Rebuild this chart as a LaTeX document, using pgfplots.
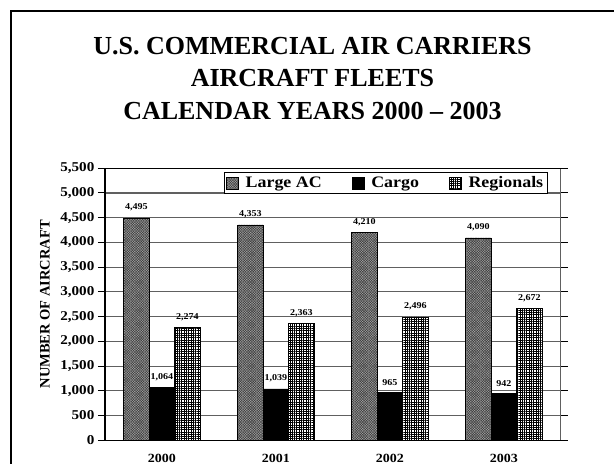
\documentclass[border=0pt]{standalone}
\usepackage{pgfplots}
\pgfplotsset{compat=1.18}
\usetikzlibrary{patterns.meta}
\usepackage{fontspec}
\setmainfont{Liberation Serif}
\newfontfamily\chartfont[FakeStretch=1.12]{Liberation Serif}

\begin{document}
\begin{tikzpicture}[x=1bp,y=1bp]
\useasboundingbox (0,0) rectangle (614,464);
% page frame, cut at right and bottom
\draw[line width=2.6bp] (11,0) -- (11,453) -- (614,453);
% title
\begin{scope}[every node/.style={anchor=base, font=\bfseries\fontsize{26bp}{30bp}\selectfont}]
\node at (312.5,409) {U.S. COMMERCIAL AIR CARRIERS};
\node at (312.5,377) {AIRCRAFT FLEETS};
\node at (312.5,344) {CALENDAR YEARS 2000 -- 2003};
\end{scope}

\begin{axis}[
    at={(92,48)}, anchor=south west,
    scale only axis, width=456bp, height=272bp,
    ybar=0pt, bar width=25.5bp,
    xmin=-0.5, xmax=3.5, ymin=0, ymax=5500,
    xtick={0,1,2,3}, xticklabels={2000,2001,2002,2003},
    ytick={0,500,...,5500},
    xtick style={draw=none},
    ytick style={black, line width=1bp},
    tick align=outside, major tick length=7bp,
    ymajorgrids, major grid style={draw=gray!75!black, line width=1.1bp},
    axis line style={draw=gray!75!black, line width=1.1bp},
    clip=false,
    /pgf/number format/.cd, 1000 sep={,}, assume math mode=true, /pgfplots/.cd,
    yticklabel style={font=\chartfont\bfseries\fontsize{13.5bp}{15bp}\selectfont},
    xticklabel style={font=\chartfont\bfseries\fontsize{12.5bp}{14bp}\selectfont, yshift=-3bp},
    ylabel={NUMBER OF AIRCRAFT},
    every axis y label/.style={at={(rel axis cs:0,0.5)}, xshift=-60bp, rotate=90, anchor=center,
        font=\bfseries\fontsize{14.5bp}{16bp}\selectfont},
    nodes near coords,
    every node near coord/.append style={font=\chartfont\bfseries\fontsize{9bp}{10bp}\selectfont,
        anchor=south, yshift=3bp, black},
    every axis plot post/.append style={legend image code/.code={
        \draw[#1,draw=black,line width=0.5bp] (0bp,-6bp) rectangle (12bp,6bp);}},
    legend columns=3,
    legend style={at={(rel axis cs:0.971,0.985)}, anchor=north east, draw=black,
        line width=0.9bp, fill=white, inner sep=2bp,
        font=\chartfont\bfseries\fontsize{16bp}{18bp}\selectfont,
        /tikz/every odd column/.append style={column sep=5bp},
        /tikz/every even column/.append style={column sep=28bp}},
]
% Large AC
\addplot[draw=black, line width=0.6bp, fill=black!35,
    postaction={pattern={Hatch[angle=45,distance=1.8bp,line width=0.5bp]}, pattern color=black!75}]
    coordinates {(0,4495) (1,4353) (2,4210) (3,4090)};
% Cargo
\addplot[draw=black, line width=0.6bp, fill=black]
    coordinates {(0,1064) (1,1039) (2,965) (3,942)};
% Regionals
\addplot[draw=black, line width=0.6bp, fill=white,
    postaction={pattern={Hatch[angle=0,distance=2.3bp,line width=0.55bp]}, pattern color=black}]
    coordinates {(0,2274) (1,2363) (2,2496) (3,2672)};
\legend{Large AC, Cargo, Regionals}
\draw[black, line width=1.3bp] (rel axis cs:1,1) -- (rel axis cs:0,1) -- (rel axis cs:0,0) -- (rel axis cs:1,0);
\end{axis}
\end{tikzpicture}
\end{document}
